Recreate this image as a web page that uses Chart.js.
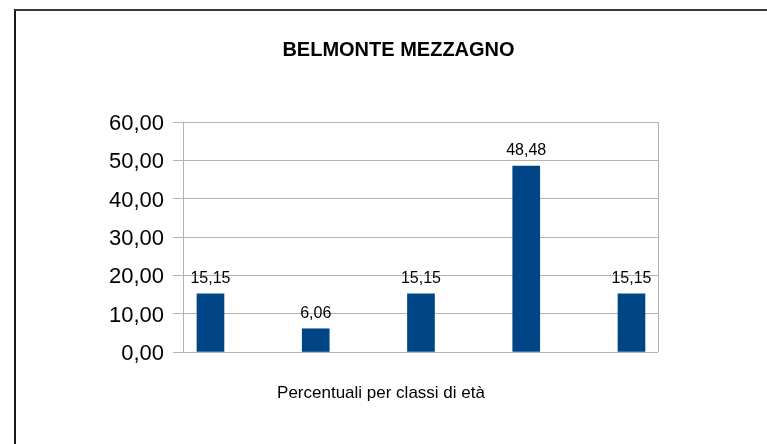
<!DOCTYPE html>
<html>
<head>
<meta charset="utf-8">
<script src="https://cdn.jsdelivr.net/npm/chart.js@4/dist/chart.umd.min.js"></script>
<style>
html,body{margin:0;padding:0;background:#fff;overflow:hidden;}
#wrap{position:relative;width:767px;height:444px;}
#frame{position:absolute;left:14px;top:9px;width:800px;height:500px;border-left:2px solid #1a1a1a;border-top:2px solid #3a3a3a;box-sizing:border-box;pointer-events:none;}
canvas{position:absolute;left:0;top:0;}
</style>
</head>
<body>
<div id="wrap">
<canvas id="c" width="767" height="444"></canvas>
<div id="frame"></div>
</div>
<script>
const chartTitle = "BELMONTE MEZZAGNO";
const xAxisTitle = "Percentuali per classi di età";
const categories = ["Classe 1", "Classe 2", "Classe 3", "Classe 4", "Classe 5"];
const values = [15.15, 6.06, 15.15, 48.48, 15.15];
const yTicks = [0, 10, 20, 30, 40, 50, 60];

const fmt = v => Number(v).toFixed(2).replace('.', ',');
const FONT = "'Liberation Sans', Arial, sans-serif";

const extras = {
  id: 'extras',
  afterDatasetsDraw(chart) {
    const ctx = chart.ctx;
    const meta = chart.getDatasetMeta(0);
    const a = chart.chartArea;
    ctx.save();
    ctx.font = "16px " + FONT;
    ctx.fillStyle = "#000";
    ctx.textAlign = "center";
    ctx.textBaseline = "alphabetic";
    meta.data.forEach((bar, i) => {
      ctx.fillText(fmt(values[i]), bar.x, bar.y - 11);
    });
    // right border of plot area
    ctx.strokeStyle = "#b3b3b3";
    ctx.lineWidth = 1;
    ctx.beginPath();
    ctx.moveTo(Math.round(a.right) + 0.5, a.top);
    ctx.lineTo(Math.round(a.right) + 0.5, a.bottom);
    ctx.stroke();
    // x axis title
    ctx.font = "17px " + FONT;
    ctx.fillText(xAxisTitle, 381, 398);
    // chart title
    ctx.font = "bold 20px " + FONT;
    ctx.fillText(chartTitle, 398.5, 56);
    ctx.restore();
  }
};

new Chart(document.getElementById('c'), {
  type: 'bar',
  data: {
    labels: categories,
    datasets: [{
      data: values.map((v, i) => ({x: i, y: v})),
      backgroundColor: '#004586',
      borderWidth: 0,
      barThickness: 27
    }]
  },
  options: {
    responsive: false,
    animation: false,
    events: [],
    layout: {padding: {left: 0, right: 109, top: 122, bottom: 92}},
    plugins: {
      legend: {display: false},
      tooltip: {enabled: false},
      title: {display: false}
    },
    scales: {
      x: {
        type: 'linear',
        offset: false,
        min: -0.261,
        max: 4.252,
        ticks: {display: false},
        grid: {display: false},
        border: {display: false},
        afterFit(s) { s.height = 0; }
      },
      y: {
        min: 0,
        max: 60,
        afterBuildTicks(s) { s.ticks = yTicks.map(v => ({value: v})); },
        afterFit(s) { s.width = 183; },
        ticks: {
          color: '#000',
          font: {family: FONT, size: 22},
          padding: 9,
          labelOffset: 2,
          callback: v => fmt(v)
        },
        grid: {color: '#b3b3b3', tickLength: 10, lineWidth: 1},
        border: {color: '#b3b3b3'}
      }
    }
  },
  plugins: [extras]
});
</script>
</body>
</html>
